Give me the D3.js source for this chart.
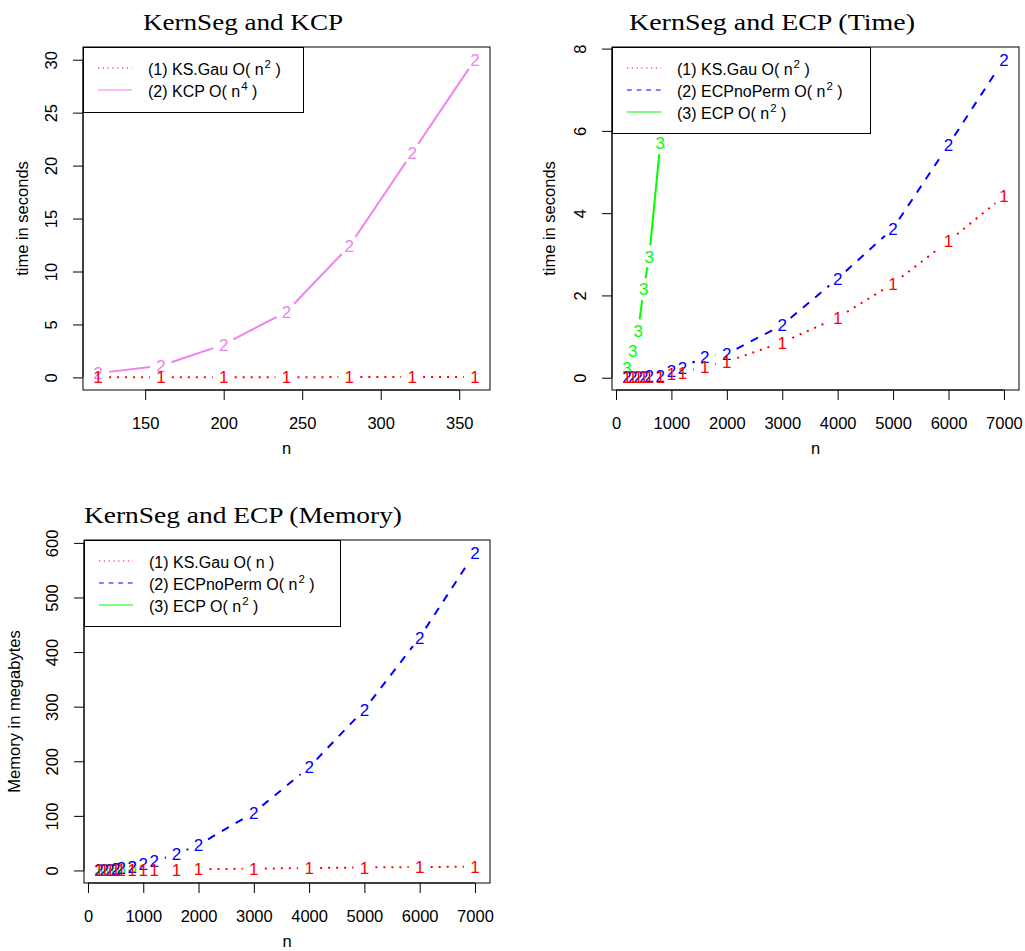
<!DOCTYPE html>
<html><head><meta charset="utf-8">
<script src="https://cdn.jsdelivr.net/npm/d3@7"></script>
<style>body{margin:0;background:#fff}</style>
</head><body>
<svg id="c" width="1025" height="951"></svg>
<script>
// ---------- data ----------
const kcpN      = [120,160,200,240,280,320,360];
const kcpKSTime = [0.01,0.01,0.02,0.02,0.03,0.03,0.04];
const kcpTime   = [0.4,1.1,3.1,6.2,12.4,21.2,30.0];

const ecpN          = [200,300,400,500,600,800,1000,1200,1600,2000,3000,4000,5000,6000,7000];
const ksTime        = [0.01,0.01,0.01,0.02,0.02,0.03,0.09,0.13,0.27,0.39,0.86,1.46,2.29,3.32,4.41];
const ecpNoPermTime = [0.01,0.02,0.02,0.03,0.04,0.05,0.17,0.25,0.51,0.58,1.28,2.41,3.63,5.66,7.73];
const ecpSmallN     = [200,300,400,500,600,800];
const ecpTime       = [0.25,0.65,1.15,2.15,2.95,5.7];

const ksMem         = [0.3,0.4,0.5,0.6,0.7,0.9,1.1,1.3,1.8,2.2,3.3,4.4,5.5,6.3,7.0];
const ecpNoPermMem  = [0.5,1.1,1.9,3.0,4.3,7.6,12,17,30,47,106,189,295,427,582];
const ecpMem        = [0.5,1.1,1.9,3.0,4.3,7.6];

const kcpXTicks = [150,200,250,300,350];
const kcpYTicks = [0,5,10,15,20,25,30];
const ecpXTicks = [0,1000,2000,3000,4000,5000,6000,7000];
const timeYTicks = [0,2,4,6,8];
const memYTicks  = [0,100,200,300,400,500,600];

const titles = ["KernSeg and KCP","KernSeg and ECP (Time)","KernSeg and ECP (Memory)"];
const yLabels = ["time in seconds","time in seconds","Memory in megabytes"];
const xLabel = "n";

// ---------- drawing ----------
const svg = d3.select("#c");
const RED="#FF0000", BLUE="#0000FF", GREEN="#00FF00", VIOLET="#EE82EE";
const SANS = "'Liberation Sans', Arial, Helvetica, sans-serif";
const SERIF = "'Liberation Serif', 'Times New Roman', serif";

function ext(vals){
  const lo=d3.min(vals), hi=d3.max(vals), d=(hi-lo)*0.04;
  return [lo-d, hi+d];
}

function panel(cfg, idx){
  const b = cfg.box;
  const allX = cfg.series.flatMap(s=>s.n);
  const allY = cfg.series.flatMap(s=>s.v);
  const x = d3.scaleLinear().domain(ext(allX)).range([b.l,b.r]);
  const y = d3.scaleLinear().domain(ext(allY)).range([b.b,b.t]);
  const g = svg.append("g");
  const clipId = "clip"+idx;
  g.append("clipPath").attr("id",clipId).append("rect")
    .attr("x",b.l).attr("y",b.t).attr("width",b.r-b.l).attr("height",b.b-b.t);

  // axes
  const xa = g.append("g").attr("transform",`translate(0,${b.b})`)
    .call(d3.axisBottom(x).tickValues(cfg.xTicks).tickSize(10).tickFormat(d3.format("d")));
  const ya = g.append("g").attr("transform",`translate(${b.l},0)`)
    .call(d3.axisLeft(y).tickValues(cfg.yTicks).tickSize(10).tickFormat(d3.format("d")));
  [xa,ya].forEach(a=>{
    a.select(".domain").remove();
    a.selectAll(".tick line").attr("stroke","#000").attr("stroke-width",1);
    a.selectAll(".tick text").attr("font-family",SANS).attr("font-size",16.5).attr("fill","#000");
  });
  xa.selectAll(".tick text").attr("dy",null).attr("y",39);
  ya.selectAll(".tick text").attr("x",0).attr("y",0).attr("dy",null)
    .attr("text-anchor","middle")
    .attr("transform","translate(-26,0) rotate(-90)");
  // axis lines from first to last tick (as R does)
  g.append("line").attr("x1",x(cfg.xTicks[0])).attr("x2",x(cfg.xTicks[cfg.xTicks.length-1]))
    .attr("y1",b.b).attr("y2",b.b).attr("stroke","#000");
  g.append("line").attr("y1",y(cfg.yTicks[0])).attr("y2",y(cfg.yTicks[cfg.yTicks.length-1]))
    .attr("x1",b.l).attr("x2",b.l).attr("stroke","#000");

  // series
  const plotG = g.append("g").attr("clip-path",`url(#${clipId})`);
  const GAP = 11;
  cfg.series.forEach(s=>{
    const pts = s.n.map((n,i)=>[x(n),y(s.v[i])]);
    for(let i=0;i<pts.length-1;i++){
      const [x1,y1]=pts[i],[x2,y2]=pts[i+1];
      const dx=x2-x1, dy=y2-y1, len=Math.hypot(dx,dy);
      if(len<=2*GAP) continue;
      const ux=dx/len, uy=dy/len;
      plotG.append("line")
        .attr("x1",x1+ux*GAP).attr("y1",y1+uy*GAP)
        .attr("x2",x2-ux*GAP).attr("y2",y2-uy*GAP)
        .attr("stroke",s.col).attr("stroke-width",2)
        .attr("stroke-dasharray",s.dash==="dot"?"2,6":s.dash==="dash"?"8,8":null);
    }
    plotG.selectAll(null).data(pts).enter().append("text")
      .attr("x",d=>d[0]).attr("y",d=>d[1]+6.2)
      .attr("text-anchor","middle").attr("font-family",SANS).attr("font-size",17)
      .attr("fill",s.col).text(s.label);
  });

  // box
  g.append("rect").attr("x",b.l).attr("y",b.t).attr("width",b.r-b.l).attr("height",b.b-b.t)
    .attr("fill","none").attr("stroke","#000").attr("stroke-width",1);

  // title
  svg.append("text").attr("x",cfg.title.x).attr("y",cfg.title.y)
    .attr("font-family",SERIF).attr("font-size",23.5).attr("fill","#000")
    .attr("textLength",cfg.title.w).attr("lengthAdjust","spacingAndGlyphs")
    .text(titles[idx]);
  // axis labels
  svg.append("text").attr("x",(b.l+b.r)/2).attr("y",b.b+64).attr("text-anchor","middle")
    .attr("font-family",SANS).attr("font-size",16.5).text(xLabel);
  svg.append("text").attr("transform",`translate(${cfg.ylabX},${(b.t+b.b)/2}) rotate(-90)`)
    .attr("text-anchor","middle").attr("font-family",SANS).attr("font-size",16.5).text(yLabels[idx]);

  // legend
  const lg = cfg.legend;
  const leg = svg.append("g");
  leg.append("rect").attr("x",b.l+0.5).attr("y",b.t+0.5).attr("width",lg.w).attr("height",lg.h)
    .attr("fill","#fff").attr("stroke","#000");
  lg.items.forEach((it,i)=>{
    const yy = b.t + 21 + i*22;
    leg.append("line").attr("x1",b.l+15).attr("x2",b.l+49).attr("y1",yy).attr("y2",yy)
      .attr("stroke",it.col).attr("stroke-width",1.2)
      .attr("stroke-dasharray",it.dash==="dot"?"1.2,3.6":it.dash==="dash"?"4.8,4.8":null);
    const t = leg.append("text").attr("x",b.l+65).attr("y",yy+6.5)
      .attr("font-family",SANS).attr("font-size",16).attr("fill","#000");
    t.append("tspan").text(it.text);
    if(it.sup){
      t.append("tspan").attr("font-size",11.5).attr("dy",-7).attr("dx",1).text(it.sup);
      t.append("tspan").attr("dy",7).text(" )");
    } else {
      t.append("tspan").text(" )");
    }
  });
}

const panels = [
  { box:{l:83,r:490,t:47,b:390}, xTicks:kcpXTicks, yTicks:kcpYTicks,
    title:{x:143,y:30,w:200}, ylabX:28,
    series:[
      {n:kcpN, v:kcpTime, col:VIOLET, dash:null, label:"2"},
      {n:kcpN, v:kcpKSTime, col:RED, dash:"dot", label:"1"}],
    legend:{w:220,h:65, items:[
      {col:RED,dash:"dot",text:"(1) KS.Gau O( n",sup:"2"},
      {col:VIOLET,dash:null,text:"(2) KCP O( n",sup:"4"}]}},
  { box:{l:612,r:1019,t:47,b:390}, xTicks:ecpXTicks, yTicks:timeYTicks,
    title:{x:629,y:30,w:286}, ylabX:555,
    series:[
      {n:ecpSmallN, v:ecpTime, col:GREEN, dash:null, label:"3"},
      {n:ecpN, v:ecpNoPermTime, col:BLUE, dash:"dash", label:"2"},
      {n:ecpN, v:ksTime, col:RED, dash:"dot", label:"1"}],
    legend:{w:258,h:86, items:[
      {col:RED,dash:"dot",text:"(1) KS.Gau O( n",sup:"2"},
      {col:BLUE,dash:"dash",text:"(2) ECPnoPerm O( n",sup:"2"},
      {col:GREEN,dash:null,text:"(3) ECP O( n",sup:"2"}]}},
  { box:{l:84,r:490,t:540,b:883}, xTicks:ecpXTicks, yTicks:memYTicks,
    title:{x:84,y:523,w:318}, ylabX:20,
    series:[
      {n:ecpSmallN, v:ecpMem, col:GREEN, dash:null, label:"3"},
      {n:ecpN, v:ecpNoPermMem, col:BLUE, dash:"dash", label:"2"},
      {n:ecpN, v:ksMem, col:RED, dash:"dot", label:"1"}],
    legend:{w:256,h:86, items:[
      {col:RED,dash:"dot",text:"(1) KS.Gau O( n",sup:null},
      {col:BLUE,dash:"dash",text:"(2) ECPnoPerm O( n",sup:"2"},
      {col:GREEN,dash:null,text:"(3) ECP O( n",sup:"2"}]}}
];
panels.forEach((p,i)=>panel(p,i));
</script>
</body></html>
